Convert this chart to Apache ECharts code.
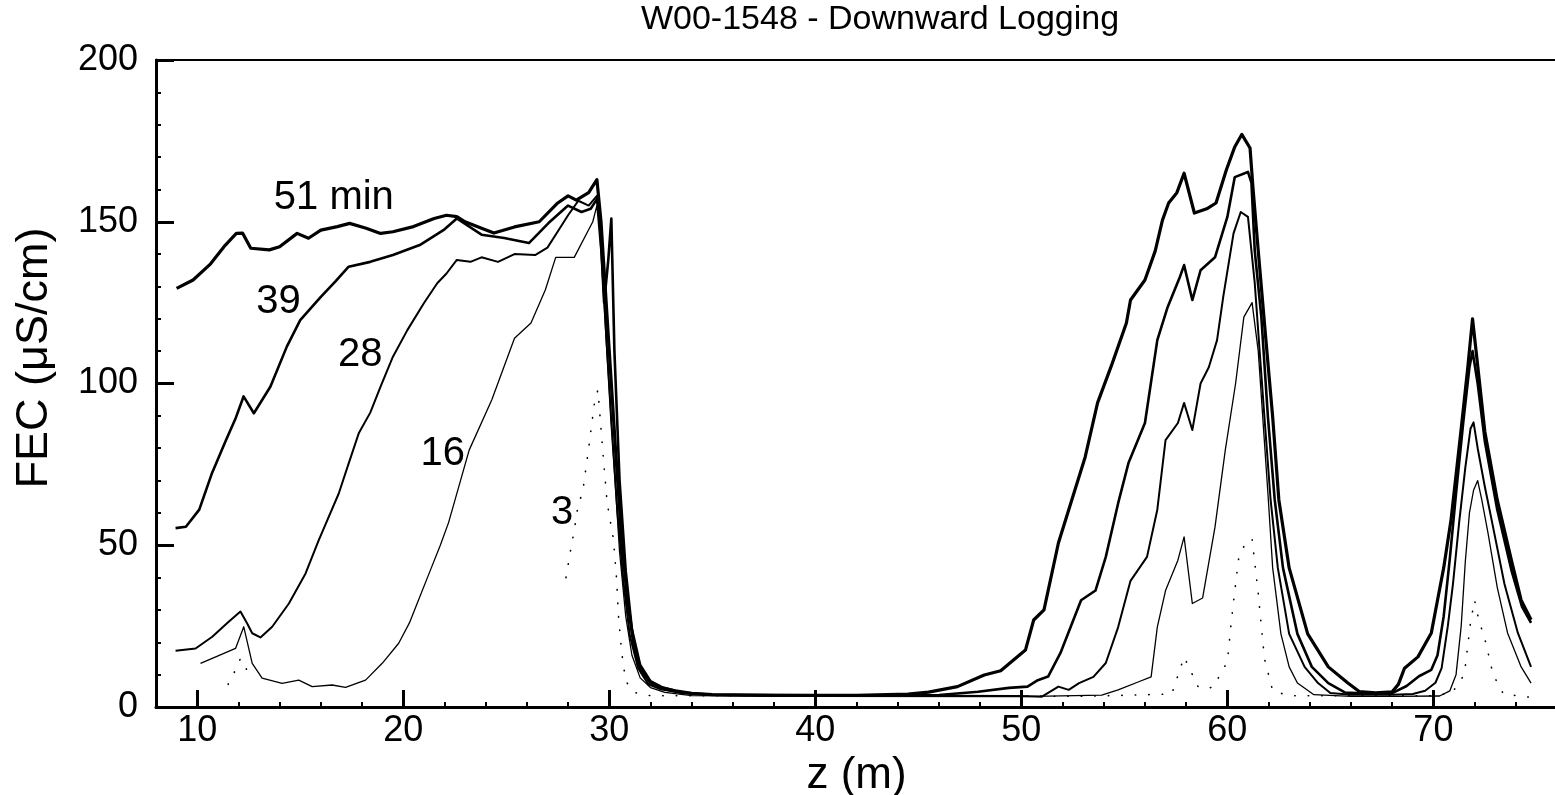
<!DOCTYPE html>
<html>
<head>
<meta charset="utf-8">
<script src="https://cdn.jsdelivr.net/npm/echarts@6/dist/echarts.min.js"></script>
<style>
html,body{margin:0;padding:0;background:#fff;}
#chart{width:1555px;height:795px;}
</style>
</head>
<body>
<div id="chart"></div>
<script>
// ---- data (z in m, FEC in µS/cm) ----
const xMajorTicks = [10, 20, 30, 40, 50, 60, 70];

const fec51 = [
[9.0,129.4],[9.8,132],[10.65,137],[11.3,142.3],[11.9,146.4],[12.2,146.5],[12.6,141.8],[13.5,141.3],[14.0,142.3],[14.85,146.4],[15.4,144.9],[16.0,147.4],[16.8,148.5],[17.4,149.5],[18.2,148],[18.9,146.4],[19.5,146.9],[20.5,148.5],[21.5,151],[22.1,152],[22.6,151.6],[23.0,150],[23.8,148],[24.4,146.5],[25.4,148.4],[26.6,150],[27.5,155.8],[28.0,158],[28.4,156.7],[29.0,159],[29.4,163],
[29.6,150],[29.8,130],[30.0,110],[30.3,80],[30.6,52],[30.9,32],[31.2,19],[31.5,12],[32.0,7.5],[32.5,6],[33.2,5],[34,4.2],[35,3.8],[38,3.6],[42,3.6],[44.5,4],[45.5,4.6],[46.9,6.3],[48.2,9.9],[49.0,11.2],[50.2,17.6],[50.6,26.9],[51.1,30],[51.8,50.7],[52.4,63],[53.1,77.3],[53.7,94],[54.4,106],[55.1,118.7],[55.3,125.8],[56.0,132],[56.5,141],[56.85,150.5],[57.15,155.8],[57.55,159],[57.9,165],[58.4,152.7],[59.0,154],[59.45,155.8],[59.95,166],[60.35,173],[60.7,177],[61.1,172.8],[61.25,160],[61.5,141],[61.85,115],[62.2,89.6],[62.5,64],[63.0,43],[63.9,22.6],[64.9,12.4],[65.85,7.4],[66.4,4.8],[67.2,4.4],[68.0,4.7],[68.3,7],[68.6,12],[69.25,15.5],[69.9,22.9],[70.2,33],[70.5,43],[70.86,58],[71.35,86],[71.67,105],[71.9,120],[72.16,105],[72.5,85],[73.1,64],[73.8,45],[74.26,33],[74.74,27]
];

const fec39 = [
[8.95,55.3],[9.45,55.7],[10.1,61],[10.7,72],[11.4,82.5],[11.85,89],[12.25,96],[12.75,90.8],[13.55,99],[14.35,111.4],[15.0,119.6],[16.0,126.8],[16.7,131.5],[17.35,136.1],[18.4,137.6],[19.5,139.7],[20.8,142.8],[21.95,147.4],[22.6,151],[23.8,146],[24.9,145],[26.1,143.4],[27.05,149.6],[28.0,155],[28.65,153],[29.1,154],[29.4,157],
[29.55,150],[29.75,125],[29.95,138],[30.1,151],[30.25,110],[30.5,70],[30.8,42],[31.1,24],[31.5,13],[32.0,8],[32.6,6],[33.5,4.5],[35,3.8],[40,3.6],[46,3.7],[47.9,4.7],[49.4,5.9],[50.3,6.3],[50.8,8.3],[51.3,9.4],[51.9,16.7],[52.9,33],[53.6,36],[54.1,46.4],[54.7,63],[55.2,75.4],[56.0,87.8],[56.6,113.4],[57.1,123.6],[57.7,133],[57.9,136.6],[58.3,125.8],[58.7,135],[59.4,139],[60.0,151.5],[60.36,163.8],[61.0,165.4],[61.17,162],[61.33,141],[61.65,120.5],[61.97,89.6],[62.3,64],[62.7,43],[63.4,22.6],[64.1,12.4],[64.9,7.4],[65.7,4.5],[66.5,4.2],[68,4.3],[68.7,6.5],[69.3,9.5],[69.9,11.5],[70.2,16],[70.5,28],[70.8,46],[71.1,66],[71.45,88],[71.75,105],[71.9,110],[72.15,100],[72.5,82],[73.1,61],[73.8,42],[74.3,31],[74.74,26]
];

const fec28 = [
[8.95,17.4],[9.92,18.1],[10.73,21.7],[11.54,26.4],[12.1,29.5],[12.42,25.9],[12.67,22.8],[13.07,21.5],[13.64,24.8],[14.45,32],[15.26,41.3],[15.9,51.6],[16.87,66],[17.3,74.3],[17.84,84.6],[18.4,91],[18.9,99],[19.5,108.3],[20.2,116.5],[21.0,124.8],[21.65,131],[22.1,134],[22.6,138.2],[23.26,137.6],[23.8,139],[24.6,137.6],[25.4,140],[26.4,139.7],[27.0,142],[27.5,147],[28.0,152],[28.5,156.5],[29.0,155],[29.4,158],
[29.6,145],[29.85,115],[30.1,88],[30.4,60],[30.7,38],[31.0,22],[31.4,12],[31.9,7],[32.5,5.5],[33.5,4.3],[35,3.7],[40,3.5],[45,3.5],[50,3.4],[51.0,3.2],[51.8,6.3],[52.3,5.3],[52.8,7.4],[53.5,9.3],[54.1,13.6],[54.7,24.7],[55.3,39],[56.1,46.4],[56.6,61],[57.0,82.5],[57.6,87.8],[57.9,94],[58.3,85.6],[58.7,100],[59.1,105],[59.5,113.4],[59.8,126.8],[60.3,146.4],[60.65,153],[61.0,151.5],[61.33,131],[61.8,89.6],[62.1,64],[62.45,43],[63.0,22.6],[63.75,12.4],[64.4,7.4],[65.0,4.3],[66,3.8],[68,3.8],[69,4],[69.6,5],[70.1,7.5],[70.4,12],[70.7,25],[70.95,38],[71.25,57],[71.55,74],[71.8,86],[71.95,88],[72.15,80],[72.5,68],[72.8,58.7],[73.45,38],[74.1,22.9],[74.74,12.4]
];

const fec16 = [
[10.16,13.5],[10.9,15.5],[11.86,18.1],[12.26,24.8],[12.67,13.5],[13.15,8.9],[14.12,7.3],[14.93,8.3],[15.58,6.3],[16.55,6.8],[17.2,6.1],[18.17,8.3],[18.98,13.5],[19.78,19.7],[20.3,26],[20.8,34],[21.3,42],[21.8,50],[22.2,57],[23.2,79.4],[24.3,95],[25.4,114],[26.2,118.7],[26.9,129],[27.4,139],[28.3,139],[29.2,150],[29.4,155],
[29.6,140],[29.9,108],[30.2,78],[30.5,48],[30.8,28],[31.1,16],[31.5,9],[32,6],[32.7,4.5],[34,3.5],[40,3.3],[50,3.2],[53.9,3.7],[54.7,5.3],[55.7,7.8],[56.3,9.3],[56.6,24.7],[57.0,36],[57.6,45.4],[57.9,52.6],[58.3,32],[58.8,33.7],[59.4,55.6],[59.9,79.4],[60.4,100],[60.8,120.5],[61.2,125],[61.5,110],[61.97,66],[62.2,43],[62.6,22.6],[63.0,12.4],[63.4,7.4],[64.2,3.8],[66,3.3],[68,3.3],[70.3,3.4],[70.8,5],[71.1,10],[71.35,25],[71.55,45],[71.75,60],[71.95,67],[72.15,70],[72.35,64],[72.65,53.8],[73.1,37],[73.6,22.9],[74.26,12.4],[74.74,7.4]
];

const fec3 = [
[11.5,7],[11.75,10],[12.1,15],[12.35,12.4],[12.6,8],[12.8,null],
[27.7,null],[27.9,40],[28.1,47.6],[28.3,54.7],[28.5,63],[28.7,66],[29.0,80],[29.3,95],[29.45,98],[29.7,78],[29.9,63],[30.2,52],[30.35,40],[30.45,28],[30.6,17],[30.8,8],[31.2,4.5],[32,3.5],[45,3.5],[53,3.3],[57.3,4],[57.9,15.5],[58.6,6],[59.3,6],[60.0,14],[60.2,27],[60.4,38],[60.55,46],[60.9,51],[61.2,52],[61.5,35],[61.8,15],[62.2,5],[63,3.5],[70,3.5],[70.9,4.3],[71.5,10],[71.8,26],[72.0,33],[72.2,27],[72.5,21],[72.9,10],[73.4,4],[74.7,3]
];

// curve annotations, anchored in data coordinates
const curveLabelTexts = ['51 min', '39', '28', '16', '3'];
const curveLabelAnchors = [[16.63,157.3],[13.94,125.2],[17.91,108.8],[21.92,78.2],[27.71,60.0]];

// ---- chart ----
const FONT = "'Liberation Sans', Arial, Helvetica, sans-serif";
const chart = echarts.init(document.getElementById('chart'), null, {renderer: 'canvas'});

function curve(name, data, width, dash) {
  return {
    name: name, type: 'line', data: data,
    xAxisIndex: 0, yAxisIndex: 0,
    showSymbol: false, symbol: 'none', connectNulls: false,
    silent: true, animation: false, z: 3,
    lineStyle: {color: '#000', width: width, type: dash || 'solid', cap: dash ? 'round' : 'butt', join: 'round'}
  };
}

const baseGraphics = [
  {id: 'title', type: 'text', x: 880, y: 20, silent: true,
   style: {text: 'W00-1548 - Downward Logging', font: '34px ' + FONT, fill: '#000', textAlign: 'center', textVerticalAlign: 'middle'}},
  {id: 'yname', type: 'text', x: 35, y: 358, rotation: Math.PI / 2, silent: true,
   style: {text: 'FEC (\u03bcS/cm)', font: '45px ' + FONT, fill: '#000', textAlign: 'center', textVerticalAlign: 'middle'}}
];

const option = {
  backgroundColor: '#fff',
  animation: false,
  grid: {left: 156, top: 60, width: 1401, height: 647, containLabel: false, outerBoundsMode: 'none'},
  graphic: baseGraphics,
  xAxis: [
    {
      type: 'value', min: 8, max: 76, position: 'bottom',
      name: 'z (m)', nameLocation: 'middle', nameGap: 40,
      nameTextStyle: {fontSize: 44, fontFamily: FONT, color: '#000'},
      axisLine: {show: true, onZero: false, lineStyle: {color: '#000', width: 3}},
      axisTick: {show: true, inside: true, length: 17, customValues: xMajorTicks, lineStyle: {color: '#000', width: 3}},
      axisLabel: {show: true, customValues: xMajorTicks, fontSize: 36, fontFamily: FONT, color: '#000', margin: 6},
      splitLine: {show: false}
    },
    {
      type: 'value', min: 8, max: 76, interval: 2, position: 'bottom',
      axisLine: {show: false, onZero: false},
      axisTick: {show: true, inside: true, length: 5, lineStyle: {color: '#000', width: 2}},
      axisLabel: {show: false},
      splitLine: {show: false}
    },
    {
      type: 'value', min: 8, max: 76, position: 'top',
      axisLine: {show: true, onZero: false, lineStyle: {color: '#000', width: 2}},
      axisTick: {show: false}, axisLabel: {show: false}, splitLine: {show: false}
    }
  ],
  yAxis: [{
    type: 'value', min: 0, max: 200, interval: 50, position: 'left',
    axisLine: {show: true, onZero: false, lineStyle: {color: '#000', width: 3}},
    axisTick: {show: true, inside: true, length: 18, lineStyle: {color: '#000', width: 3}},
    minorTick: {show: true, splitNumber: 5, length: 5, lineStyle: {color: '#000', width: 2}},
    axisLabel: {fontSize: 36, fontFamily: FONT, color: '#000', margin: 18},
    splitLine: {show: false}, minorSplitLine: {show: false}
  }],
  series: [
    curve('3 min', fec3, 1.6, [0.5, 13]),
    curve('16 min', fec16, 1.3),
    curve('28 min', fec28, 2),
    curve('39 min', fec39, 2.6),
    curve('51 min', fec51, 3.2)
  ]
};
chart.setOption(option);

// curve annotations placed through the chart's own scales
const labelGraphics = curveLabelAnchors.map(function (p, i) {
  const px = chart.convertToPixel({xAxisIndex: 0, yAxisIndex: 0}, p);
  return {id: 'lbl' + i, type: 'text', x: px[0], y: px[1], silent: true, z: 10,
    style: {text: curveLabelTexts[i], font: '40px ' + FONT, fill: '#000', textAlign: 'center', textVerticalAlign: 'middle'}};
});
chart.setOption({graphic: baseGraphics.concat(labelGraphics)});
</script>
</body>
</html>
